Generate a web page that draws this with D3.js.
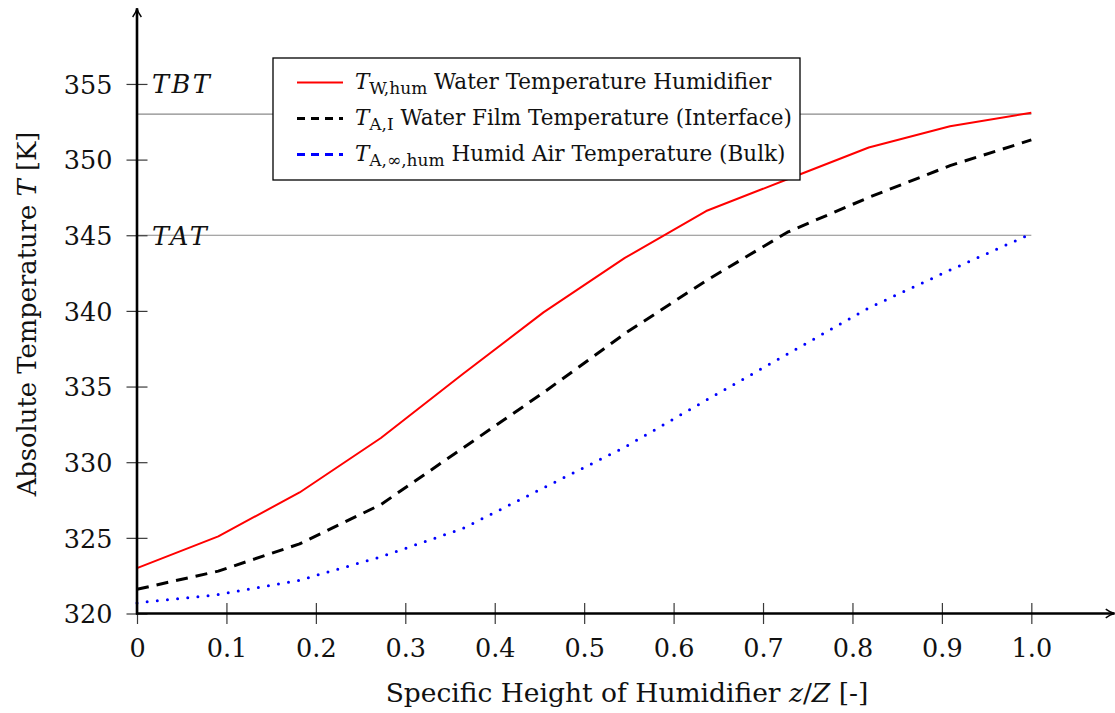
<!DOCTYPE html>
<html>
<head>
<meta charset="utf-8">
<script src="https://cdn.jsdelivr.net/npm/d3@7"></script>
<style>
  html, body { margin: 0; padding: 0; background: #fff; }
  svg { display: block; }
  text { font-family: "DejaVu Serif", "Liberation Serif", serif; fill: #111; }
</style>
</head>
<body>
<svg id="chart" width="1115" height="713"></svg>
<script>
// ---- data ----
const zValues = [0, 0.0909, 0.1818, 0.2727, 0.3636, 0.4545, 0.5455, 0.6364, 0.7273, 0.8182, 0.9091, 1.0];
const waterTemp = [323.0, 325.1, 328.0, 331.6, 335.8, 339.9, 343.5, 346.6, 348.7, 350.8, 352.2, 353.1];
const filmTemp = [321.6, 322.8, 324.6, 327.2, 330.9, 334.6, 338.5, 342.0, 345.2, 347.5, 349.6, 351.3];
const airTemp = [320.7, 321.25, 322.2, 323.75, 325.6, 328.3, 331.0, 334.1, 337.15, 340.2, 342.7, 345.1];
const xTicks = [0, 0.1, 0.2, 0.3, 0.4, 0.5, 0.6, 0.7, 0.8, 0.9, 1.0];
const xTickLabels = ["0", "0.1", "0.2", "0.3", "0.4", "0.5", "0.6", "0.7", "0.8", "0.9", "1.0"];
const yTicks = [320, 325, 330, 335, 340, 345, 350, 355];
const refLevels = [353, 345];
const refLabels = ["TBT", "TAT"];
const refLabelAt = [355, 345];

const svg = d3.select("#chart");
const x = d3.scaleLinear().domain([0, 1.093]).range([137, 1114.5]);
const y = d3.scaleLinear().domain([320, 360]).range([613.5, 8.3]);

// reference lines
svg.append("g").selectAll("line").data(refLevels).join("line")
  .attr("x1", x(0)).attr("x2", x(1.0))
  .attr("y1", d => y(d)).attr("y2", d => y(d))
  .attr("stroke", "#8a8a8a").attr("stroke-width", 1.2);

svg.append("g").selectAll("text").data(refLabels).join("text")
  .attr("x", 152).attr("y", (d, i) => y(refLabelAt[i]) + 9.5)
  .attr("font-style", "italic").attr("font-size", 25.5).attr("letter-spacing", 2.5)
  .text(d => d);

// series
const series = [
  { vals: waterTemp, color: "#ff0000", width: 2, dash: null, cap: "butt" },
  { vals: filmTemp, color: "#000000", width: 3, dash: "12,8", cap: "butt" },
  { vals: airTemp, color: "#0000ff", width: 3, dash: "0,10.2", cap: "round" }
];
const line = d3.line().x((d, i) => x(zValues[i])).y(d => y(d));
series.forEach(s => {
  svg.append("path").datum(s.vals)
    .attr("d", line).attr("fill", "none")
    .attr("stroke", s.color).attr("stroke-width", s.width)
    .attr("stroke-dasharray", s.dash).attr("stroke-linecap", s.cap)
    .attr("stroke-linejoin", "round");
});

// axes
const defs = svg.append("defs");
defs.append("marker").attr("id", "arrow").attr("viewBox", "0 0 10 10")
  .attr("refX", 9).attr("refY", 5).attr("markerWidth", 4.2).attr("markerHeight", 4.2)
  .attr("markerUnits", "strokeWidth").attr("orient", "auto")
  .append("path").attr("d", "M1,1 Q5,4 9,5 Q5,6 1,9").attr("fill", "none")
  .attr("stroke", "#000").attr("stroke-width", 1.3);

const xAxis = svg.append("g").attr("transform", `translate(0,${y(320)})`)
  .call(d3.axisBottom(x).tickValues(xTicks).tickSize(0).tickPadding(0)
    .tickFormat((d, i) => xTickLabels[i]));
xAxis.select(".domain").remove();
xAxis.selectAll(".tick line").attr("y1", -10.5).attr("y2", 10.5)
  .attr("stroke", "#3a3a3a").attr("stroke-width", 1.2);
xAxis.selectAll(".tick text").attr("y", 25).attr("font-size", 25.5)
  .attr("font-family", "DejaVu Serif").attr("fill", "#111");

const yAxis = svg.append("g").attr("transform", `translate(${x(0)},0)`)
  .call(d3.axisLeft(y).tickValues(yTicks).tickSize(0).tickPadding(0));
yAxis.select(".domain").remove();
yAxis.selectAll(".tick line").attr("x1", -10.5).attr("x2", 10.5)
  .attr("stroke", "#3a3a3a").attr("stroke-width", 1.2);
yAxis.selectAll(".tick text").attr("x", -24.5).attr("dy", "0.36em").attr("font-size", 25.5)
  .attr("font-family", "DejaVu Serif").attr("fill", "#111");

svg.append("line").attr("x1", x(0) - 1).attr("x2", x(1.093))
  .attr("y1", y(320)).attr("y2", y(320))
  .attr("stroke", "#000").attr("stroke-width", 2.6).attr("marker-end", "url(#arrow)");
svg.append("line").attr("x1", x(0)).attr("x2", x(0))
  .attr("y1", y(320) + 1).attr("y2", y(360))
  .attr("stroke", "#000").attr("stroke-width", 2.6).attr("marker-end", "url(#arrow)");

// axis labels
const xl = svg.append("text").attr("x", 627).attr("y", 702)
  .attr("text-anchor", "middle").attr("font-size", 26.5);
xl.append("tspan").text("Specific Height of Humidifier ");
xl.append("tspan").attr("font-style", "italic").text("z");
xl.append("tspan").text("/");
xl.append("tspan").attr("font-style", "italic").text("Z");
xl.append("tspan").text(" [-]");

const yl = svg.append("text").attr("transform", "translate(36,314) rotate(-90)")
  .attr("text-anchor", "middle").attr("font-size", 25.8);
yl.append("tspan").text("Absolute Temperature ");
yl.append("tspan").attr("font-style", "italic").text("T");
yl.append("tspan").text(" [K]");

// legend
const legendSub = ["W,hum", "A,I", "A,∞,hum"];
const legendText = ["Water Temperature Humidifier", "Water Film Temperature (Interface)", "Humid Air Temperature (Bulk)"];
const legendColors = ["#ff0000", "#000000", "#0000ff"];
const legendDash = [null, "8,6", "8,6"];
const legendWidth = [2, 3, 3];
const lg = svg.append("g");
lg.append("rect").attr("x", 273).attr("y", 58).attr("width", 527).attr("height", 122)
  .attr("fill", "#fff").attr("stroke", "#000").attr("stroke-width", 1.3);
legendText.forEach((t, i) => {
  const base = 89 + i * 36;
  lg.append("line").attr("x1", 297).attr("x2", 343)
    .attr("y1", base - 6.5).attr("y2", base - 6.5)
    .attr("stroke", legendColors[i]).attr("stroke-width", legendWidth[i])
    .attr("stroke-dasharray", legendDash[i]);
  const tx = lg.append("text").attr("x", 355).attr("y", base).attr("font-size", 21.5);
  tx.append("tspan").attr("font-style", "italic").text("T");
  tx.append("tspan").attr("font-size", 17).attr("dy", 5).text(legendSub[i]);
  tx.append("tspan").attr("dy", -5).text(" " + t);
});
</script>
</body>
</html>
